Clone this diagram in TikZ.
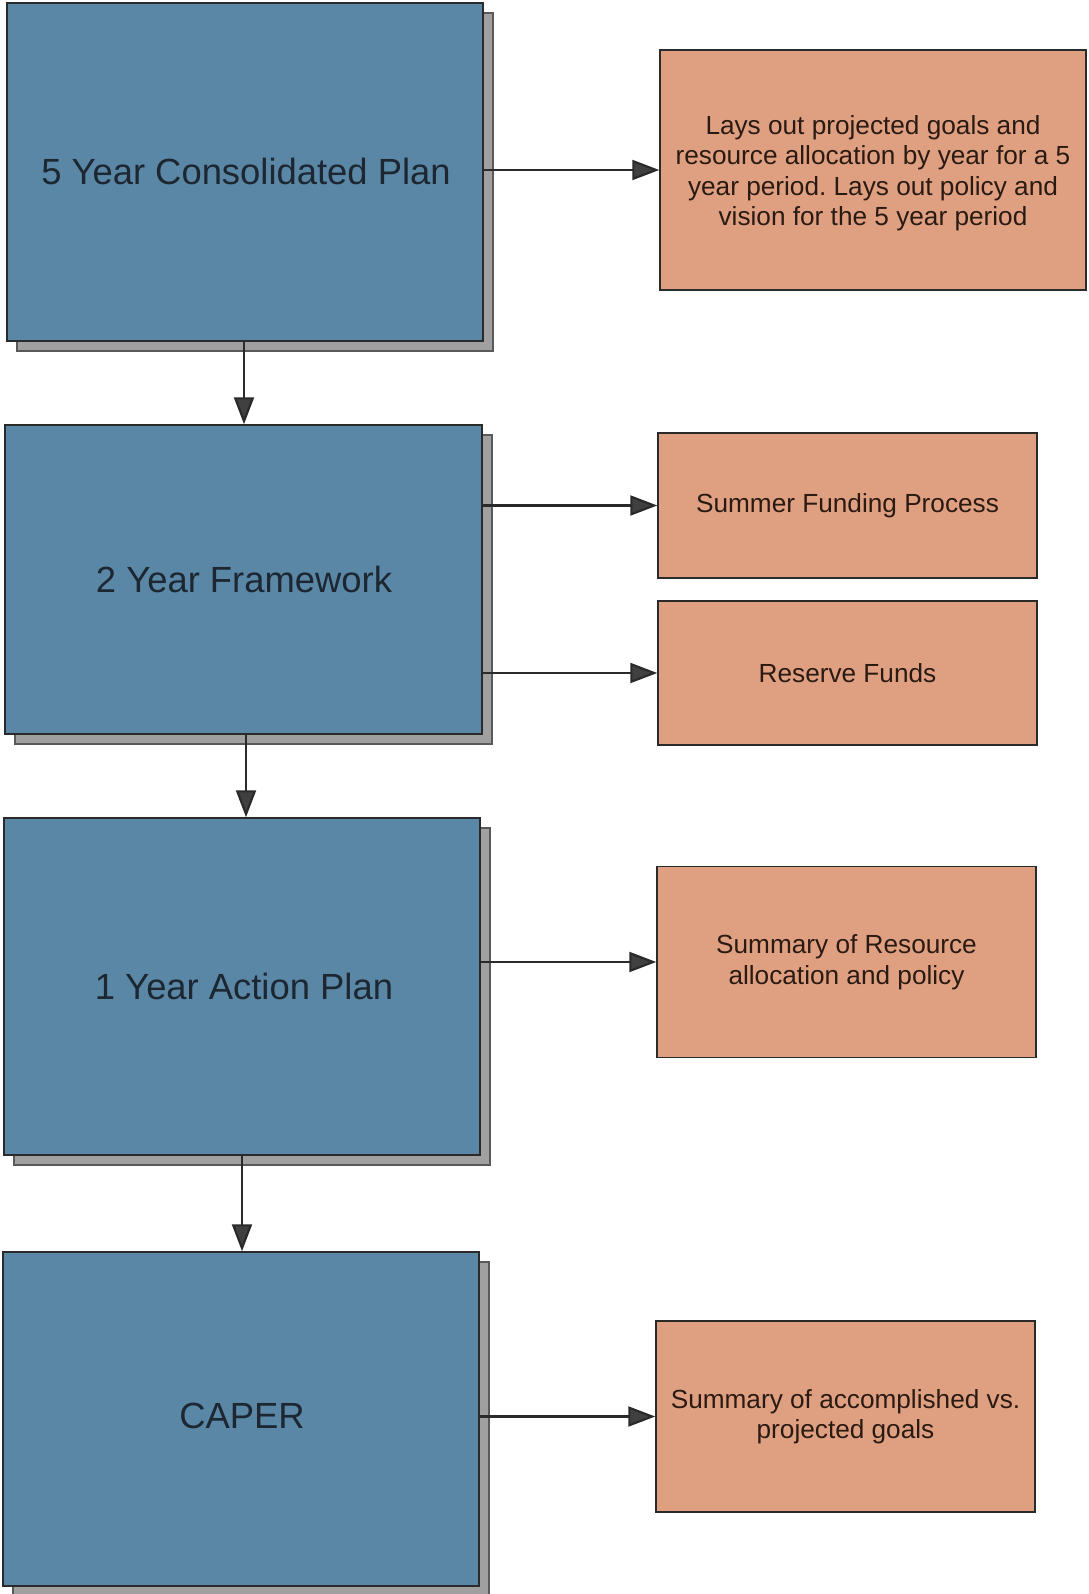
\documentclass[tikz,border=0pt]{standalone}
\usepackage{fontspec}
\setmainfont{Liberation Sans}
\usetikzlibrary{arrows.meta,shadows}
\frenchspacing
\definecolor{bluebox}{HTML}{5B87A6}
\definecolor{orangebox}{HTML}{DFA082}
\definecolor{shadowgray}{HTML}{A0A0A0}
\definecolor{linedark}{HTML}{2A2A2A}
\definecolor{bluetext}{HTML}{1C2731}
\definecolor{orangetext}{HTML}{2A1A12}
\tikzset{
  planbox/.style={rectangle, inner sep=0pt, fill=bluebox, draw=linedark, line width=1.5pt,
    text=bluetext, font=\fontsize{36.4}{42}\selectfont,
    drop shadow={shadow xshift=10pt, shadow yshift=-10pt, fill=shadowgray, draw=black!65, line width=1.2pt, opacity=1}},
  notebox/.style={rectangle, inner sep=0pt, fill=orangebox, draw=linedark, line width=1.5pt,
    text=orangetext, align=center, font=\fontsize{26.2}{30.5}\selectfont},
  planlabel/.style={text=bluetext, font=\fontsize{36.4}{42}\selectfont},
  flow/.style={draw=linedark, line width=2.2pt, -{Triangle[length=27pt,width=20pt,fill=black!75]}}
}
\begin{document}
\begin{tikzpicture}[x=1pt,y=-1pt]
\useasboundingbox[fill=white] (0,0) rectangle (1088,1594);
% main plan boxes
\node[planbox, minimum width=476pt, minimum height=338pt] (b1) at (245,172) {};
\node[planbox, minimum width=477pt, minimum height=309pt] (b2) at (243.5,579.5) {};
\node[planbox, minimum width=476pt, minimum height=337pt] (b3) at (242,986.5) {};
\node[planbox, minimum width=476pt, minimum height=334pt] (b4) at (241,1419) {};
\node[planlabel] (t1) at (246,171) {5 Year Consolidated Plan};
\node[planlabel] (t2) at (244,579) {2 Year Framework};
\node[planlabel] (t3) at (244,986) {1 Year Action Plan};
\node[planlabel] (t4) at (242,1416) {CAPER};
% note boxes
\node[notebox, minimum width=426pt, minimum height=240pt] (o1) at (873,170) {};
\node[notebox, minimum width=379pt, minimum height=145pt] (o2) at (847.5,505.5) {Summer Funding Process};
\node[notebox, minimum width=379pt, minimum height=144pt] (o3) at (847.5,673) {Reserve Funds};
\node[notebox, minimum width=379pt, minimum height=191pt] (o4) at (846.5,962) {Summary of Resource\\allocation and policy};
\node[notebox, minimum width=379pt, minimum height=191pt] (o5) at (845.5,1416.5) {Summary of accomplished vs.\\projected goals};
\node[notebox, draw=none, fill=none] (o1t) at (873,173)
  {Lays out projected goals and\\resource allocation by year for a 5\\year period. Lays out policy and\\vision for the 5 year period};
% horizontal connectors
\draw[flow] (b1.east |- o1.west) -- (o1.west);
\draw[flow] (b2.east |- o2.west) -- (o2.west);
\draw[flow] (b2.east |- o3.west) -- (o3.west);
\draw[flow] (b3.east |- o4.west) -- (o4.west);
\draw[flow] (b4.east |- o5.west) -- (o5.west);
% vertical connectors
\coordinate (v1) at (244,341);
\coordinate (v2) at (246,734);
\coordinate (v3) at (242,1155);
\draw[flow] (v1) -- (v1 |- b2.north);
\draw[flow] (v2) -- (v2 |- b3.north);
\draw[flow] (v3) -- (v3 |- b4.north);
\end{tikzpicture}
\end{document}
